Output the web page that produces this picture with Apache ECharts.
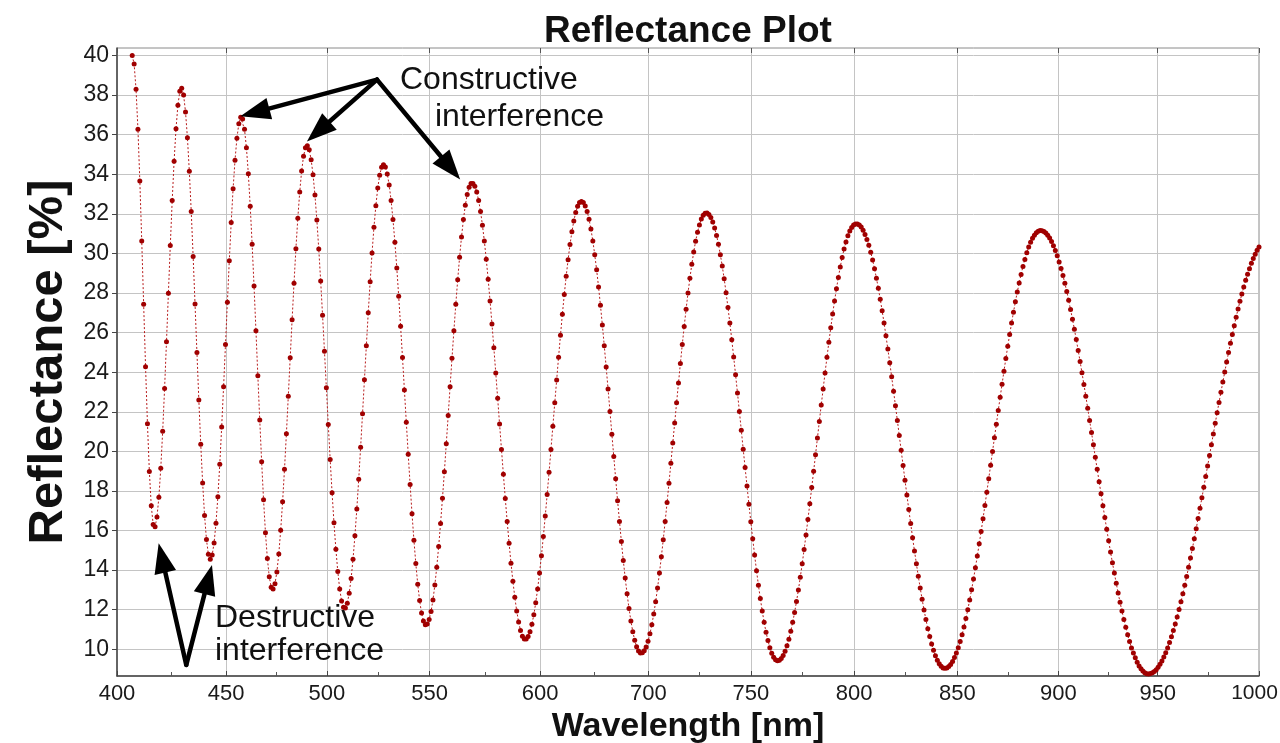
<!DOCTYPE html>
<html>
<head>
<meta charset="utf-8">
<script src="https://cdn.jsdelivr.net/npm/echarts@6/dist/echarts.min.js"></script>
<style>
html,body{margin:0;padding:0;background:#ffffff;}
#chart{width:1280px;height:743px;}
</style>
</head>
<body>
<div id="chart"></div>
<script>
// ---------- data ----------
const xTickLabels = ['400','450','500','550','600','700','750','800','850','900','950','1000'];
const xTickValues = [400, 457.3, 510.3, 564.2, 622.3, 679.2, 733.0, 787.3, 841.5, 894.6, 946.8, 1000];
const yTickValues = [10,12,14,16,18,20,22,24,26,28,30,32,34,36,38,40];
const wavelengthStart = 408;   // first sample (nm), samples every 1 nm
const wavelengthStep = 1;
const reflectance = [
40.00,39.57,38.29,36.28,33.66,30.63,27.43,24.28,21.39,18.98,17.25,16.31,
16.19,16.68,17.68,19.15,21.01,23.18,25.54,27.99,30.40,32.67,34.66,36.30,37.49,38.19,
38.35,38.00,37.15,35.85,34.15,32.12,29.85,27.44,24.99,22.59,20.36,18.40,16.76,15.55,14.80,
14.55,14.76,15.37,16.37,17.71,19.35,21.23,23.27,25.40,27.54,29.63,31.56,33.27,34.71,35.82,36.55,36.88,
36.79,36.27,35.34,34.03,32.38,30.46,28.35,26.10,23.82,21.58,19.47,17.55,15.89,14.59,13.66,13.14,
13.05,13.31,13.91,14.82,16.01,17.45,19.09,20.89,22.79,24.73,26.65,28.50,30.24,31.78,33.10,34.16,34.91,35.34,
35.44,35.24,34.74,33.97,32.95,31.69,30.23,28.61,26.88,25.06,23.21,21.36,19.59,17.91,16.39,15.05,13.93,13.05,12.44,12.12,
12.09,12.33,12.83,13.57,14.55,15.73,17.09,18.59,20.21,21.90,23.62,25.33,27.00,28.57,30.02,31.32,32.41,33.31,33.95,34.35,34.48,
34.37,34.02,33.46,32.68,31.71,30.57,29.27,27.84,26.32,24.74,23.10,21.47,19.86,18.32,16.85,15.51,14.33,13.29,12.46,11.83,11.43,11.24,
11.28,11.50,11.91,12.49,13.25,14.15,15.19,16.36,17.63,18.97,20.38,21.81,23.26,24.70,26.09,27.43,28.67,29.81,30.83,31.71,32.43,32.98,33.35,33.54,
33.54,33.40,33.11,32.68,32.12,31.43,30.63,29.71,28.70,27.60,26.44,25.23,23.96,22.68,21.38,20.10,18.84,17.62,16.45,15.36,14.35,13.44,12.63,11.94,11.38,10.95,10.66,10.52,
10.52,10.64,10.89,11.26,11.75,12.35,13.05,13.85,14.73,15.70,16.73,17.82,18.94,20.10,21.27,22.45,23.61,24.76,25.87,26.93,27.93,28.85,29.68,30.45,31.09,31.64,32.07,32.38,32.57,32.63,
32.57,32.40,32.12,31.73,31.23,30.63,29.94,29.17,28.31,27.38,26.39,25.34,24.26,23.15,22.02,20.87,19.74,18.61,17.51,16.46,15.44,14.49,13.60,12.80,12.06,11.43,10.89,10.45,10.13,9.91,9.81,
9.82,9.92,10.12,10.40,10.78,11.24,11.78,12.40,13.10,13.85,14.67,15.54,16.46,17.41,18.39,19.40,20.42,21.43,22.45,23.45,24.44,25.40,26.31,27.18,28.00,28.75,29.45,30.07,30.62,31.07,31.44,31.74,31.93,32.03,
32.04,31.97,31.82,31.59,31.29,30.91,30.46,29.94,29.36,28.72,28.02,27.27,26.48,25.64,24.77,23.87,22.95,22.02,21.07,20.11,19.18,18.25,17.33,16.44,15.58,14.76,13.97,13.24,12.56,11.94,11.36,10.86,10.44,10.08,9.80,9.60,9.47,9.42,
9.45,9.54,9.69,9.90,10.18,10.51,10.91,11.36,11.86,12.41,13.00,13.64,14.32,15.04,15.78,16.56,17.35,18.17,18.99,19.83,20.67,21.51,22.34,23.15,23.96,24.75,25.51,26.24,26.94,27.60,28.22,28.79,29.32,29.80,30.22,30.58,30.89,31.14,31.31,31.44,31.49,
31.49,31.44,31.33,31.17,30.96,30.71,30.41,30.06,29.67,29.23,28.75,28.24,27.69,27.10,26.49,25.84,25.17,24.48,23.77,23.04,22.30,21.56,20.80,20.05,19.29,18.54,17.80,17.06,16.35,15.64,14.96,14.32,13.69,13.09,12.53,11.99,11.50,11.04,10.64,10.27,9.95,9.67,9.44,9.27,9.14,9.06,9.04,
9.06,9.13,9.23,9.38,9.58,9.81,10.08,10.39,10.74,11.13,11.55,12.00,12.49,13.01,13.55,14.12,14.71,15.33,15.95,16.60,17.27,17.94,18.62,19.30,19.99,20.69,21.37,22.06,22.73,23.39,24.05,24.69,25.31,25.90,26.48,27.03,27.56,28.05,28.51,28.94,29.34,29.70,30.03,30.32,30.56,30.77,30.92,31.05,31.12,31.16,
31.15,31.11,31.03,30.92,30.78,30.60,30.39,30.15,29.88,29.57,29.24,28.88,28.49,28.08,27.63,27.17,26.68,26.17,25.65,25.10,24.54,23.97,23.38,22.79,22.18,21.56,20.95,20.33,19.70,19.09,18.47,17.86,17.25,16.66,16.06,15.48,14.91,14.37,13.85,13.33,12.84,12.37,11.93,11.50,11.11,10.73,10.39,10.07,9.81,9.57,9.35,9.16,9.01,8.90,8.81,8.76,
8.75,8.77,8.81,8.88,8.97,9.09,9.24,9.41,9.61,9.83,10.07,10.34,10.63,10.95,11.28,11.63,12.01,12.40,12.81,13.24,13.68,14.14,14.61,15.09,15.59,16.09,16.61,17.13,17.65,18.19,18.73,19.26,19.79,20.34,20.88,21.42,21.95,22.47,22.99,23.50,24.01,24.51,24.99,25.46,25.91,26.35,26.78,27.19,27.58,27.95,28.31,28.64,28.95,29.23,29.50,29.74,29.96,30.16,30.33
];
// annotation anchors in data units [wavelength, reflectance]
const constructiveFrom = [536.6, 38.78];
const constructiveTo = [[464.8, 36.93], [499.8, 35.66], [580.3, 33.73]];
const destructiveFrom = [436.4, 9.21];
const destructiveTo = [[421.9, 15.36], [449.9, 14.26]];

// ---------- build ----------
const seriesData = reflectance.map((r, i) => [wavelengthStart + i * wavelengthStep, r]);
const xMinorValues = [];
for (let i = 0; i < xTickValues.length - 1; i++) xMinorValues.push((xTickValues[i] + xTickValues[i + 1]) / 2);

const FONT = '"Liberation Sans", Arial, Helvetica, sans-serif';
const chart = echarts.init(document.getElementById('chart'), null, {renderer: 'canvas'});

const option = {
  animation: false,
  backgroundColor: '#ffffff',
  title: {
    text: 'Reflectance Plot',
    left: 683,
    top: 8,
    textAlign: 'center',
    textStyle: {fontFamily: FONT, fontSize: 37, fontWeight: 'bold', color: '#111'}
  },
  grid: {left: 117, right: 21, top: 48, bottom: 67, containLabel: false, outerBoundsMode: 'none',
         show: true, borderColor: '#8a8a8a', borderWidth: 1, backgroundColor: 'transparent'},
  xAxis: [
    {
      type: 'value', min: 400, max: 1000, position: 'bottom',
      name: 'Wavelength [nm]', nameLocation: 'middle', nameGap: 31,
      nameTextStyle: {fontFamily: FONT, fontSize: 34, fontWeight: 'bold', color: '#111'},
      axisLine: {show: true, lineStyle: {color: '#444', width: 1.5}},
      axisTick: {show: true, inside: true, length: 5, customValues: xTickValues, lineStyle: {color: '#444'}},
      axisLabel: {
        customValues: xTickValues, margin: 7, hideOverlap: false,
        fontFamily: FONT, fontSize: 22, color: '#1a1a1a',
        formatter: function (v) {
          const i = xTickValues.findIndex(t => Math.abs(t - v) < 0.01);
          if (i < 0) return '';
          return i === xTickValues.length - 1 ? '{last|' + xTickLabels[i] + '}' : xTickLabels[i];
        },
        rich: {last: {fontFamily: FONT, fontSize: 21, color: '#1a1a1a', padding: [0, 9, 0, 0]}}
      },
      splitLine: {show: true, lineStyle: {color: '#c4c4c4', width: 1}}
    },
    {
      type: 'value', min: 400, max: 1000, position: 'bottom', gridIndex: 0,
      axisLine: {show: false},
      axisTick: {show: true, inside: true, length: 4, customValues: xMinorValues, lineStyle: {color: '#555'}},
      axisLabel: {show: false},
      splitLine: {show: false}
    },
    {
      type: 'value', min: 400, max: 1000, position: 'top', gridIndex: 0,
      axisLine: {show: false},
      axisTick: {show: true, inside: true, length: 5, customValues: xTickValues, lineStyle: {color: '#555'}},
      axisLabel: {show: false},
      splitLine: {show: false}
    }
  ],
  yAxis: {
    type: 'value', min: 8.65, max: 40.38,
    name: 'Reflectance [%]', nameLocation: 'middle', nameGap: 36,
    nameTextStyle: {fontFamily: FONT, fontSize: 49, fontWeight: 'bold', color: '#111'},
    axisLine: {show: true, lineStyle: {color: '#444', width: 1.5}},
    axisTick: {show: true, inside: false, length: 5, customValues: yTickValues, lineStyle: {color: '#444'}},
    axisLabel: {customValues: yTickValues, margin: 8, fontFamily: FONT, fontSize: 23, color: '#1a1a1a'},
    splitLine: {show: true, lineStyle: {color: '#c4c4c4', width: 1}}
  },
  series: [{
    type: 'line',
    name: 'Reflectance',
    xAxisIndex: 0, yAxisIndex: 0,
    data: seriesData,
    symbol: 'circle',
    symbolSize: 5,
    showSymbol: true,
    itemStyle: {color: '#a00000'},
    lineStyle: {color: '#b81c1c', width: 1, type: [2, 2]},
    emphasis: {disabled: true},
    z: 5
  }]
};
chart.setOption(option);

// ---------- annotations ----------
function px(p) { return chart.convertToPixel({xAxisIndex: 0, yAxisIndex: 0}, p); }
function arrow(from, to) {
  const a = px(from), b = px(to);
  const dx = b[0] - a[0], dy = b[1] - a[1];
  const len = Math.sqrt(dx * dx + dy * dy);
  const ux = dx / len, uy = dy / len;
  const headLen = 30, headW = 22;
  const bx = b[0] - ux * headLen, by = b[1] - uy * headLen;
  const nx = -uy, ny = ux;
  return [
    {type: 'line', z: 20, shape: {x1: a[0], y1: a[1], x2: b[0] - ux * headLen * 0.6, y2: b[1] - uy * headLen * 0.6},
     style: {stroke: '#000', lineWidth: 4.5, lineCap: 'round'}},
    {type: 'polygon', z: 20, shape: {points: [[b[0], b[1]], [bx + nx * headW / 2, by + ny * headW / 2], [bx - nx * headW / 2, by - ny * headW / 2]]},
     style: {fill: '#000'}}
  ];
}
let elements = [];
constructiveTo.forEach(t => { elements = elements.concat(arrow(constructiveFrom, t)); });
destructiveTo.forEach(t => { elements = elements.concat(arrow(destructiveFrom, t)); });
const textStyle = (txt) => ({text: txt, font: '32px ' + FONT, fill: '#111', textAlign: 'left', textVerticalAlign: 'middle'});
elements.push({type: 'text', z: 21, x: 400, y: 80, style: textStyle('Constructive')});
elements.push({type: 'text', z: 21, x: 435, y: 117, style: textStyle('interference')});
elements.push({type: 'text', z: 21, x: 215, y: 618, style: textStyle('Destructive')});
elements.push({type: 'text', z: 21, x: 215, y: 651, style: textStyle('interference')});
chart.setOption({graphic: {elements: elements}});
</script>
</body>
</html>
